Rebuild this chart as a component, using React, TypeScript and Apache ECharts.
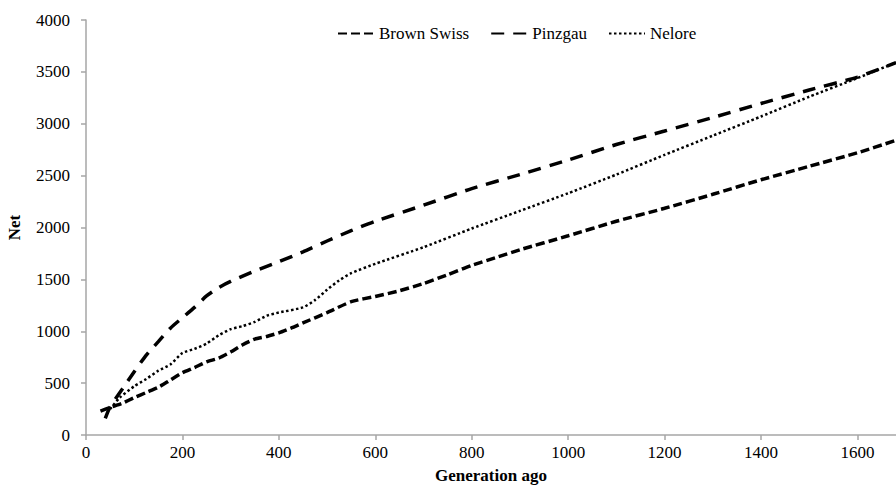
import React, { useEffect, useRef } from "react";
import * as echarts from "echarts";

const brownSwissGen = [30, 50, 75, 100, 125, 150, 175, 200, 225, 250, 275, 300, 325, 350, 375, 400, 425, 450, 500, 550, 600, 650, 700, 750, 800, 850, 900, 1000, 1100, 1200, 1300, 1400, 1500, 1600, 1680];
const brownSwissNe = [230, 265, 305, 360, 410, 460, 530, 600, 650, 705, 740, 800, 870, 925, 950, 985, 1030, 1080, 1180, 1285, 1335, 1390, 1460, 1545, 1635, 1710, 1785, 1920, 2060, 2185, 2320, 2460, 2590, 2720, 2840];

const pinzgauGen = [40, 50, 75, 100, 125, 150, 175, 200, 225, 250, 275, 300, 350, 400, 450, 500, 550, 600, 700, 800, 900, 1000, 1100, 1200, 1300, 1400, 1500, 1600, 1680];
const pinzgauNe = [160, 270, 440, 610, 770, 900, 1030, 1130, 1230, 1340, 1420, 1480, 1580, 1670, 1765, 1870, 1970, 2060, 2215, 2375, 2510, 2650, 2800, 2930, 3060, 3195, 3325, 3450, 3590];

const neloreGen = [50, 70, 100, 125, 150, 175, 200, 225, 250, 275, 300, 325, 350, 375, 400, 450, 475, 500, 525, 550, 600, 700, 800, 900, 1000, 1100, 1200, 1300, 1400, 1500, 1600, 1680];
const neloreNe = [250, 360, 470, 540, 620, 680, 790, 830, 880, 960, 1020, 1050, 1090, 1150, 1180, 1230, 1300, 1400, 1490, 1560, 1650, 1810, 1990, 2160, 2330, 2510, 2700, 2885, 3070, 3260, 3440, 3590];

const seriesNames = ["Brown Swiss", "Pinzgau", "Nelore"];

const pairs = (xs: number[], ys: number[]) => xs.map((x, i) => [x, ys[i]]);

export default function App() {
  const ref = useRef<HTMLDivElement>(null);
  useEffect(() => {
    if (!ref.current) return;
    const chart = echarts.init(ref.current, undefined, { renderer: "svg" });
    const font = "Liberation Serif";
    const axisColor = "#a6a6a6";
    const fs = 17;
    chart.setOption({
      animation: false,
      backgroundColor: "#ffffff",
      textStyle: { fontFamily: font },
      grid: { left: 86, right: 0, top: 20, bottom: 52, containLabel: false, outerBoundsMode: "none" },
      legend: {
        left: 337,
        top: 25,
        padding: 0,
        itemWidth: 36,
        itemHeight: 14,
        itemGap: 21,
        data: seriesNames,
        itemStyle: { color: "transparent", borderWidth: 0, opacity: 0 },
        textStyle: { fontFamily: font, fontSize: fs, color: "#000" },
      },
      xAxis: {
        type: "value",
        min: 0,
        max: 1680,
        interval: 200,
        name: "Generation ago",
        nameLocation: "middle",
        nameGap: 32,
        nameTextStyle: { fontFamily: font, fontSize: fs, fontWeight: "bold", color: "#000" },
        axisLine: { show: true, lineStyle: { color: axisColor, width: 1.5 } },
        axisTick: { show: true, length: 5, lineStyle: { color: axisColor, width: 1.5 } },
        axisLabel: {
          fontFamily: font,
          fontSize: fs,
          color: "#000",
          margin: 9,
          showMaxLabel: false,
          formatter: (v: number) => (v % 200 === 0 ? String(v) : ""),
        },
        splitLine: { show: false },
      },
      yAxis: {
        type: "value",
        min: 0,
        max: 4000,
        interval: 500,
        name: "Net",
        nameLocation: "middle",
        nameGap: 63,
        nameTextStyle: { fontFamily: font, fontSize: fs, fontWeight: "bold", color: "#000" },
        axisLine: { show: true, lineStyle: { color: axisColor, width: 1.5 } },
        axisTick: { show: true, length: 5, lineStyle: { color: axisColor, width: 1.5 } },
        axisLabel: {
          fontFamily: font,
          fontSize: fs,
          color: "#000",
          margin: 16,
          formatter: (v: number) => String(v),
        },
        splitLine: { show: false },
      },
      series: [
        {
          name: seriesNames[0],
          type: "line",
          data: pairs(brownSwissGen, brownSwissNe),
          showSymbol: false,
          symbol: "none",
          smooth: 0.2,
          lineStyle: { color: "#000", width: 3.5, type: [9, 4], cap: "butt" },
          itemStyle: { color: "#000" },
        },
        {
          name: seriesNames[1],
          type: "line",
          data: pairs(pinzgauGen, pinzgauNe),
          showSymbol: false,
          symbol: "none",
          smooth: 0.2,
          lineStyle: { color: "#000", width: 3.5, type: [13, 9], cap: "butt" },
          itemStyle: { color: "#000" },
        },
        {
          name: seriesNames[2],
          type: "line",
          data: pairs(neloreGen, neloreNe),
          showSymbol: false,
          symbol: "none",
          smooth: 0.2,
          lineStyle: { color: "#000", width: 2.5, type: [2.5, 2.5], cap: "butt" },
          itemStyle: { color: "#000" },
        },
      ],
    });
    return () => chart.dispose();
  }, []);
  return (
    <div
      ref={ref}
      style={{ position: "fixed", left: 0, top: 0, width: 896, height: 487, background: "#fff" }}
    />
  );
}
